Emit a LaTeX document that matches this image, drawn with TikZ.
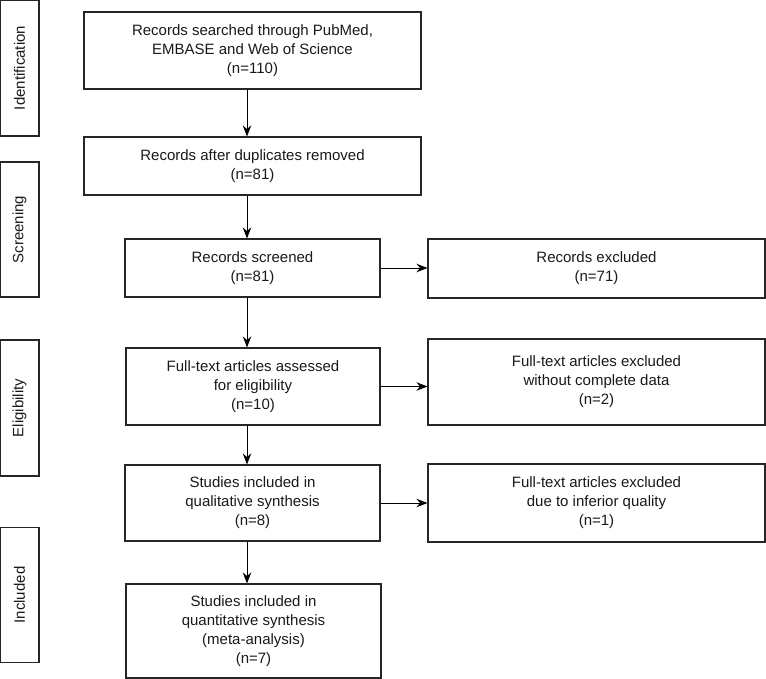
\documentclass[tikz,border=0pt]{standalone}
\usepackage{fontspec}
\setmainfont{Liberation Sans}
\usetikzlibrary{arrows.meta}
\begin{document}
\begin{tikzpicture}[x=1pt,y=-1pt,
  box/.style={draw=black!85,line width=1.1pt,inner sep=0pt,align=center,
    font=\fontsize{15}{19}\selectfont,text=black!90},
  side/.style={draw=black!85,line width=1.1pt,inner sep=0pt},
  sidetext/.style={rotate=90,font=\fontsize{15}{19}\selectfont,text=black!90},
  arr/.style={line width=0.9pt,draw=black,-{Stealth[length=11pt,width=8.5pt]}}]
\useasboundingbox (0,0) rectangle (766,679);
% side labels
\node[side,minimum width=39pt,minimum height=136pt] (sid) at (19.5,68) {};
\node[sidetext] (tid) at (sid.center) {Identification};
\node[side,minimum width=39pt,minimum height=135pt] (ssc) at (19.5,229.5) {};
\node[sidetext] (tsc) at (ssc.center) {Screening};
\node[side,minimum width=39pt,minimum height=136pt] (sel) at (19.5,408) {};
\node[sidetext] (tel) at (sel.center) {Eligibility};
\node[side,minimum width=39pt,minimum height=135pt] (sin) at (19.5,595) {};
\node[sidetext] (tin) at (sin.center) {Included};
% main boxes
\node[box,minimum width=337pt,minimum height=77pt] (b1) at (252.5,50.5)
  {Records searched through PubMed,\\EMBASE and Web of Science\\(n=110)};
\node[box,minimum width=337pt,minimum height=58pt] (b2) at (252.5,166)
  {Records after duplicates removed\\(n=81)};
\node[box,minimum width=255pt,minimum height=58pt] (b3) at (252.5,268)
  {Records screened\\(n=81)};
\node[box,minimum width=254pt,minimum height=77pt] (b4) at (253,386.5)
  {Full-text articles assessed\\for eligibility\\(n=10)};
\node[box,minimum width=255pt,minimum height=76pt] (b5) at (252.5,503)
  {Studies included in\\qualitative synthesis\\(n=8)};
\node[box,minimum width=255pt,minimum height=94pt] (b6) at (253.5,631)
  {Studies included in\\quantitative synthesis\\(meta-analysis)\\(n=7)};
% right boxes
\node[box,minimum width=337pt,minimum height=59pt] (r1) at (596.5,268.5)
  {Records excluded\\(n=71)};
\node[box,minimum width=337pt,minimum height=86pt] (r2) at (596.5,382)
  {Full-text articles excluded\\without complete data\\(n=2)};
\node[box,minimum width=337pt,minimum height=78pt] (r3) at (596.5,503)
  {Full-text articles excluded\\due to inferior quality\\(n=1)};
% arrows
\coordinate (ax) at (247,0);
\draw[arr] (b1.south -| ax) -- (b2.north -| ax);
\draw[arr] (b2.south -| ax) -- (b3.north -| ax);
\draw[arr] (b3.south -| ax) -- (b4.north -| ax);
\draw[arr] (b4.south -| ax) -- (b5.north -| ax);
\draw[arr] (b5.south -| ax) -- (b6.north -| ax);
\draw[arr] (b3.east) -- (b3.east -| r1.west);
\draw[arr] (b4.east) -- (b4.east -| r2.west);
\draw[arr] (b5.east) -- (b5.east -| r3.west);
\end{tikzpicture}
\end{document}
